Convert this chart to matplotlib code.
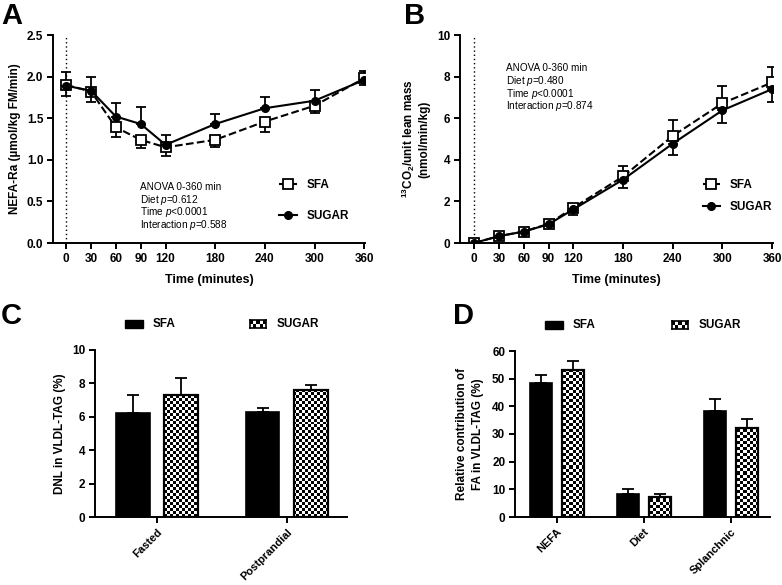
import numpy as np
import matplotlib
matplotlib.use("Agg")
import matplotlib.pyplot as plt
from matplotlib.patches import Rectangle
from matplotlib.lines import Line2D

plt.rcParams['font.family'] = ['Liberation Sans', 'DejaVu Sans']
plt.rcParams['mathtext.fontset'] = 'custom'
plt.rcParams['mathtext.it'] = 'Liberation Sans:italic'
plt.rcParams['mathtext.rm'] = 'Liberation Sans'
plt.rcParams['mathtext.bf'] = 'Liberation Sans:bold'

# ---------------- data ----------------
time = [0, 30, 60, 90, 120, 180, 240, 300, 360]

# Panel A: NEFA-Ra
a_sfa = [1.90, 1.82, 1.39, 1.24, 1.15, 1.24, 1.46, 1.65, 1.98]
a_sfa_lo = [0.00, 0.00, 0.11, 0.10, 0.10, 0.09, 0.13, 0.09, 0.00]
a_sfa_hi = [0.15, 0.00, 0.00, 0.00, 0.00, 0.00, 0.00, 0.00, 0.09]
a_sug = [1.89, 1.83, 1.52, 1.43, 1.18, 1.43, 1.62, 1.71, 1.96]
a_sug_lo = [0.12, 0.14, 0.00, 0.00, 0.00, 0.00, 0.00, 0.00, 0.06]
a_sug_hi = [0.00, 0.16, 0.16, 0.20, 0.12, 0.12, 0.14, 0.13, 0.00]

# Panel B: 13CO2
b_sfa = [0.00, 0.33, 0.55, 0.92, 1.70, 3.20, 5.15, 6.72, 7.72]
b_sfa_lo = [0, 0, 0, 0, 0, 0, 0, 0, 0]
b_sfa_hi = [0.00, 0.08, 0.06, 0.08, 0.15, 0.48, 0.75, 0.83, 0.75]
b_sug = [0.00, 0.33, 0.55, 0.90, 1.62, 3.05, 4.78, 6.38, 7.40]
b_sug_lo = [0.00, 0.08, 0.06, 0.08, 0.27, 0.40, 0.53, 0.63, 0.60]
b_sug_hi = [0, 0, 0, 0, 0, 0, 0, 0, 0]

# Panel C: DNL
c_cats = ['Fasted', 'Postprandial']
c_sfa = [6.2, 6.3]
c_sfa_err = [1.1, 0.2]
c_sug = [7.3, 7.6]
c_sug_err = [1.0, 0.3]

# Panel D: relative contribution
d_cats = ['NEFA', 'Diet', 'Splanchnic']
d_sfa = [48.3, 8.2, 38.3]
d_sfa_err = [3.2, 1.9, 4.2]
d_sug = [53.3, 7.4, 32.0]
d_sug_err = [3.2, 0.9, 3.4]

W, H = 782, 585
fig = plt.figure(figsize=(W / 100, H / 100), dpi=100)


def ax_px(l, t, r, b):
    return fig.add_axes([l / W, 1 - b / H, (r - l) / W, (b - t) / H])


def style(ax):
    for s in ['top', 'right']:
        ax.spines[s].set_visible(False)
    for s in ['left', 'bottom']:
        ax.spines[s].set_linewidth(1.4)
    ax.tick_params(width=1.4, length=4, labelsize=8.5, pad=3)
    for lab in ax.get_xticklabels() + ax.get_yticklabels():
        lab.set_fontweight('bold')


def line_handles():
    return [Line2D([], [], color='black', ls='--', lw=1.5, marker='s', ms=7,
                   mfc='white', mec='black', mew=1.3),
            Line2D([], [], color='black', ls='-', lw=1.5, marker='o', ms=5.5,
                   mfc='black', mec='black')]


# ---------------- Panel A ----------------
axA = ax_px(53, 35, 365, 243)
axA.axvline(0, color='black', ls=(0, (1, 2)), lw=1.0, zorder=1)
axA.errorbar(time, a_sfa, yerr=[a_sfa_lo, a_sfa_hi], color='black', ls='--', lw=1.5,
             marker='s', ms=7, mfc='white', mec='black', mew=1.3, capsize=3.5,
             elinewidth=1.3, capthick=1.3, zorder=3)
axA.errorbar(time, a_sug, yerr=[a_sug_lo, a_sug_hi], color='black', ls='-', lw=1.5,
             marker='o', ms=5.5, mfc='black', mec='black', capsize=3.5,
             elinewidth=1.3, capthick=1.3, zorder=4)
axA.set_xlim(-16, 361)
axA.set_ylim(0, 2.5)
axA.set_xticks(time)
axA.set_yticks([0.0, 0.5, 1.0, 1.5, 2.0, 2.5])
axA.set_yticklabels(['0.0', '0.5', '1.0', '1.5', '2.0', '2.5'])
style(axA)
axA.set_xlabel('Time (minutes)', fontsize=9, fontweight='bold', labelpad=7)
axA.set_ylabel('NEFA-Ra (µmol/kg FM/min)', fontsize=8.5, fontweight='bold', labelpad=4)
txtA = ['ANOVA 0-360 min', r'Diet $\mathit{p}$=0.612', r'Time $\mathit{p}$<0.0001',
        r'Interaction $\mathit{p}$=0.588']
for i, t in enumerate(txtA):
    axA.text(0.28, 0.27 - i * 0.061, t, transform=axA.transAxes, fontsize=7.2,
             va='center', ha='left')
legA = axA.legend(line_handles(), ['SFA', 'SUGAR'], loc='upper left',
                  bbox_to_anchor=(0.71, 0.33), frameon=False,
                  handlelength=1.5, labelspacing=1.6, fontsize=8.5, borderaxespad=0)
for t in legA.get_texts():
    t.set_fontweight('bold')

# ---------------- Panel B ----------------
axB = ax_px(460, 35, 773, 243)
axB.axvline(0, color='black', ls=(0, (1, 2)), lw=1.0, zorder=1)
axB.errorbar(time, b_sfa, yerr=[b_sfa_lo, b_sfa_hi], color='black', ls='--', lw=1.5,
             marker='s', ms=7, mfc='white', mec='black', mew=1.3, capsize=3.5,
             elinewidth=1.3, capthick=1.3, zorder=3)
axB.errorbar(time, b_sug, yerr=[b_sug_lo, b_sug_hi], color='black', ls='-', lw=1.5,
             marker='o', ms=5.5, mfc='black', mec='black', capsize=3.5,
             elinewidth=1.3, capthick=1.3, zorder=4)
axB.set_xlim(-17, 361)
axB.set_ylim(0, 10)
axB.set_xticks(time)
axB.set_yticks([0, 2, 4, 6, 8, 10])
style(axB)
axB.set_xlabel('Time (minutes)', fontsize=9, fontweight='bold', labelpad=7)
axB.set_ylabel('$^{\\mathbf{13}}$CO$_{\\mathbf{2}}$/unit lean mass\n(nmol/min/kg)',
               fontsize=8.5, fontweight='bold', labelpad=5, linespacing=1.15)
txtB = ['ANOVA 0-360 min', r'Diet $\mathit{p}$=0.480', r'Time $\mathit{p}$<0.0001',
        r'Interaction $\mathit{p}$=0.874']
for i, t in enumerate(txtB):
    axB.text(0.147, 0.84 - i * 0.061, t, transform=axB.transAxes, fontsize=7.2,
             va='center', ha='left')
legB = axB.legend(line_handles(), ['SFA', 'SUGAR'], loc='upper left',
                  bbox_to_anchor=(0.76, 0.33), frameon=False,
                  handlelength=1.5, labelspacing=0.85, fontsize=8.5, borderaxespad=0)
for t in legB.get_texts():
    t.set_fontweight('bold')


# ---------------- helpers for bars ----------------
def checker_img(ax, clip, cell=3.0):
    pos = ax.get_position()
    wpx = pos.width * W
    hpx = pos.height * H
    nx = int(round(wpx / cell))
    ny = int(round(hpx / cell))
    arr = (np.add.outer(np.arange(ny), np.arange(nx)) % 2).astype(float)
    im = ax.imshow(arr, cmap='gray', vmin=0, vmax=1, extent=(0, 1, 0, 1),
                   transform=ax.transAxes, interpolation='nearest', aspect='auto',
                   zorder=2.5)
    im.set_clip_path(clip)
    return im


def bar_panel(ax, cats, sfa, sfa_err, sug, sug_err, xlim, ylim, yticks):
    x = np.arange(len(cats))
    off = 0.185
    w = 0.255
    ax.bar(x - off, sfa, w, color='black', edgecolor='black', lw=1.2, zorder=2)
    ax.errorbar(x - off, sfa, yerr=[np.zeros(len(sfa)), sfa_err], fmt='none',
                ecolor='black', elinewidth=1.3, capsize=4, capthick=1.3, zorder=1.5)
    bars = ax.bar(x + off, sug, w, color='white', edgecolor='black', lw=1.2, zorder=2)
    ax.errorbar(x + off, sug, yerr=[np.zeros(len(sug)), sug_err], fmt='none',
                ecolor='black', elinewidth=1.3, capsize=4, capthick=1.3, zorder=1.5)
    for b in bars:
        checker_img(ax, b)
    ax.bar(x + off, sug, w, color='none', edgecolor='black', lw=1.6, zorder=3)
    ax.set_xlim(*xlim)
    ax.set_ylim(*ylim)
    ax.set_yticks(yticks)
    ax.set_xticks(x)
    ax.set_xticklabels(cats, rotation=45, ha='right', rotation_mode='anchor')
    style(ax)
    for lab in ax.get_xticklabels():
        lab.set_fontsize(8)


def bar_legend(x1, x2, y, w1=18, w2=16, h=8):
    fig.add_artist(Rectangle((x1 / W, 1 - (y + h / 2) / H), w1 / W, h / H,
                             transform=fig.transFigure, color='black'))
    fig.text((x1 + w1 + 10) / W, 1 - y / H, 'SFA', fontsize=8.5, fontweight='bold',
             va='center', ha='left')
    lax = fig.add_axes([x2 / W, 1 - (y + h / 2) / H, w2 / W, h / H])
    ny, nx = int(h / 2.7), int(w2 / 2.7)
    arr = (np.add.outer(np.arange(ny), np.arange(nx)) % 2).astype(float)
    lax.imshow(arr, cmap='gray', vmin=0, vmax=1, aspect='auto', interpolation='nearest')
    lax.set_xticks([])
    lax.set_yticks([])
    for s in lax.spines.values():
        s.set_linewidth(1.2)
    fig.text((x2 + w2 + 11) / W, 1 - y / H, 'SUGAR', fontsize=8.5, fontweight='bold',
             va='center', ha='left')


# ---------------- Panel C ----------------
axC = ax_px(95, 350, 347, 517)
bar_panel(axC, c_cats, c_sfa, c_sfa_err, c_sug, c_sug_err, (-0.477, 1.462), (0, 10),
          [0, 2, 4, 6, 8, 10])
axC.set_ylabel('DNL in VLDL-TAG (%)', fontsize=8.5, fontweight='bold', labelpad=4)
bar_legend(125, 250, 324)

# ---------------- Panel D ----------------
axD = ax_px(515, 351, 770, 517)
bar_panel(axD, d_cats, d_sfa, d_sfa_err, d_sug, d_sug_err, (-0.48, 2.45), (0, 60),
          [0, 10, 20, 30, 40, 50, 60])
axD.set_ylabel('Relative contribution of\nFA in VLDL-TAG (%)', fontsize=8.5,
               fontweight='bold', labelpad=6, linespacing=1.45)
bar_legend(545, 672, 325)

# ---------------- panel letters ----------------
for lbl, px, py in [('A', 1, 2), ('B', 404, 2), ('C', 1, 302), ('D', 453, 302)]:
    fig.text(px / W, 1 - py / H, lbl, fontsize=21, fontweight='bold', va='top', ha='left')

fig.savefig('out.png', dpi=100)
